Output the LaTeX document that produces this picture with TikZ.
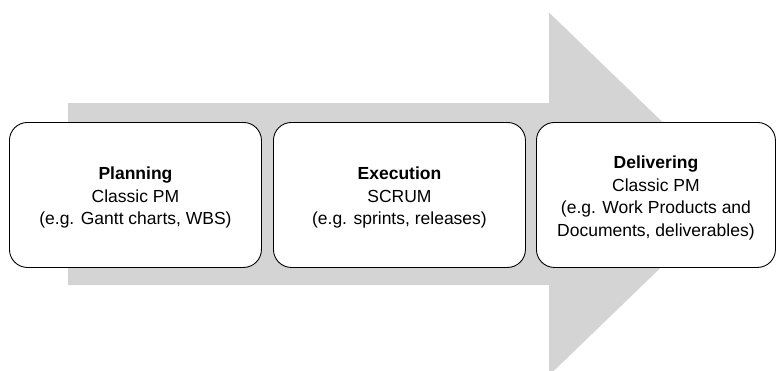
\documentclass[tikz,border=0pt]{standalone}
\usepackage{fontspec}
\setmainfont{Liberation Sans}
\begin{document}
\begin{tikzpicture}[x=1pt,y=-1pt,
  stagebox/.style={draw=black, line width=0.9pt, fill=white, rounded corners=18pt,
    minimum width=#1, minimum height=145pt, inner sep=0pt},
  stagetext/.style={align=center, font=\fontsize{17.5}{22.5}\selectfont, inner sep=0pt}]
\useasboundingbox (0,0) rectangle (776,370);
\fill[fill={rgb,255:red,212;green,212;blue,212}]
  (68,103) -- (549,103) -- (549,12.5) -- (737,194) -- (549,375.5) -- (549,285) -- (68,285) -- cycle;
\node[stagebox=252pt, anchor=north west] (b1) at (9,122) {};
\node[stagebox=252pt, anchor=north west] (b2) at (273,122) {};
\node[stagebox=239pt, anchor=north west] (b3) at (536,122) {};
\node[stagetext] (t1) at ([yshift=-3pt]b1.center) {\textbf{Planning}\\Classic PM\\(e.g. Gantt charts, WBS)};
\node[stagetext] (t2) at ([yshift=-3pt]b2.center) {\textbf{Execution}\\SCRUM\\(e.g. sprints, releases)};
\node[stagetext] (t3) at ([yshift=-3pt]b3.center) {\textbf{Delivering}\\Classic PM\\(e.g. Work Products and\\Documents, deliverables)};
\end{tikzpicture}
\end{document}
